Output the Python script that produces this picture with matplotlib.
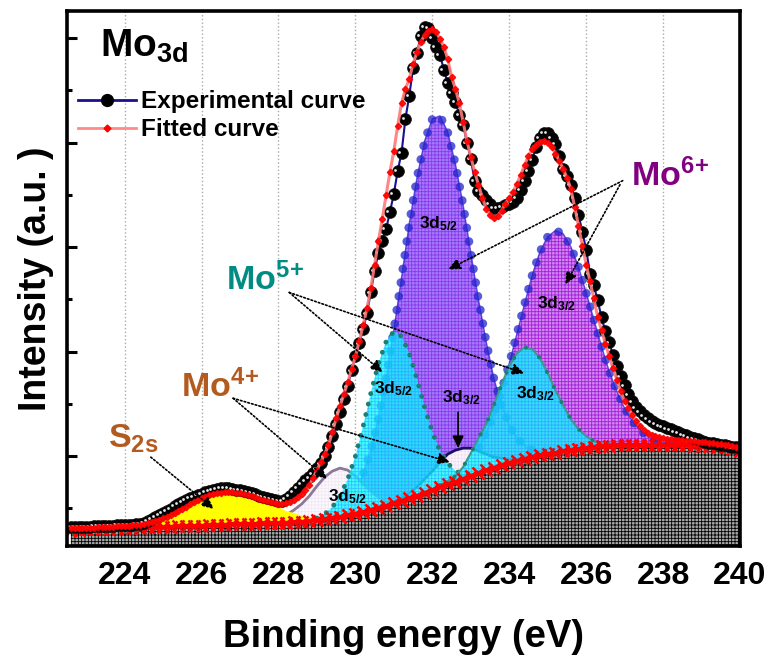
import numpy as np
import matplotlib
matplotlib.use("Agg")
import matplotlib.pyplot as plt
from matplotlib.lines import Line2D
from matplotlib.ticker import FixedLocator, NullFormatter
from matplotlib.transforms import ScaledTranslation

plt.rcParams['font.family'] = 'Liberation Sans'
plt.rcParams['font.weight'] = 'bold'
plt.rcParams['mathtext.fontset'] = 'custom'
plt.rcParams['mathtext.rm'] = 'Liberation Sans:bold'
plt.rcParams['mathtext.it'] = 'Liberation Sans:bold'
plt.rcParams['mathtext.bf'] = 'Liberation Sans:bold'
plt.rcParams['mathtext.default'] = 'rm'
plt.rcParams['hatch.linewidth'] = 0.6

# binding energy grids (eV)
energy = np.round(np.arange(222.6, 240.05, 0.1), 1)
energy_bg = energy[::2]

# experimental XPS counts (a.u.), 0.1 eV step
exp_counts = [19, 19, 19, 19, 19, 19, 20, 20, 20, 20,
              20, 20, 21, 21, 21, 21, 21, 22, 22, 23,
              25, 27, 29, 31, 33, 35, 37, 40, 42, 44,
              46, 48, 49, 51, 52, 54, 55, 56, 57, 58,
              58, 58, 57, 56, 56, 55, 54, 53, 52, 50,
              49, 48, 47, 46, 45, 45, 47, 50, 54, 58,
              62, 66, 69, 73, 78, 83, 90, 99, 110, 122,
              134, 147, 160, 176, 190, 203, 217, 233, 254, 276,
              294, 306, 318, 335, 353, 376, 394, 428, 451, 479,
              494, 511, 520, 519, 509, 500, 492, 477, 464, 454,
              445, 432, 422, 404, 388, 366, 356, 352, 347, 343,
              339, 339, 340, 342, 343, 345, 349, 357, 366, 376,
              387, 400, 409, 414, 414, 409, 403, 391, 378, 371,
              362, 349, 332, 315, 297, 273, 261, 246, 229, 215,
              204, 191, 180, 170, 161, 152, 145, 139, 135, 131,
              128, 125, 123, 121, 120, 118, 117, 115, 114, 112,
              111, 109, 108, 107, 105, 104, 103, 103, 102, 101,
              101, 100, 99, 99, 98]

# fitted envelope, 0.1 eV step
fit_counts = [18, 18, 18, 18, 18, 18, 18, 19, 19, 19,
              19, 19, 20, 20, 20, 20, 21, 21, 21, 22,
              23, 24, 25, 26, 28, 29, 31, 33, 35, 37,
              39, 42, 44, 46, 48, 49, 51, 52, 53, 53,
              54, 54, 54, 53, 53, 52, 51, 50, 49, 47,
              46, 45, 44, 43, 42, 42, 43, 44, 46, 49,
              52, 56, 61, 68, 76, 84, 92, 101, 114, 128,
              140, 152, 164, 177, 190, 205, 221, 238, 258, 282,
              306, 328, 352, 375, 396, 421, 444, 458, 468, 483,
              495, 505, 512, 516, 518, 515, 508, 500, 488, 470,
              458, 444, 425, 406, 390, 375, 362, 349, 338, 332,
              329, 331, 336, 343, 349, 355, 363, 372, 382, 391,
              398, 402, 405, 406, 404, 400, 393, 386, 378, 369,
              358, 340, 321, 301, 282, 265, 248, 229, 216, 202,
              190, 178, 166, 155, 145, 138, 131, 125, 120, 116,
              113, 111, 110, 109, 108, 107, 107, 106, 106, 106,
              105, 105, 105, 104, 104, 104, 103, 103, 102, 102,
              101, 101, 100, 99, 98]

# Shirley background, 0.2 eV step
bg_counts = [16, 16, 17, 17, 17, 17, 18, 18, 18, 18,
             19, 19, 19, 19, 20, 20, 20, 20, 21, 21,
             21, 22, 22, 22, 22, 23, 23, 23, 23, 24,
             24, 25, 26, 27, 28, 29, 31, 32, 34, 36,
             38, 40, 43, 45, 48, 50, 53, 56, 59, 62,
             64, 67, 70, 73, 76, 78, 81, 83, 85, 87,
             89, 91, 92, 93, 95, 96, 97, 98, 99, 100,
             100, 101, 101, 101, 101, 101, 101, 101, 101, 101,
             101, 100, 100, 100, 99, 99, 97, 95]

# fitted components (peak + background), 0.2 eV step
s2s_e = np.linspace(224.4, 229.0, 24)
s2s = [20, 23, 25, 28, 31, 35, 39, 44, 48, 51, 53, 54,
       55, 54, 52, 49, 47, 43, 39, 35, 33, 30, 29, 28]

mo4_52_e = np.linspace(227.8, 231.2, 18)
mo4_52 = [26, 28, 31, 36, 42, 50, 60, 69, 75, 78, 76, 70, 62, 55, 49, 44, 43, 45]

mo4_32_e = np.linspace(230.8, 234.6, 20)
mo4_32 = [40, 44, 48, 53, 59, 67, 75, 84, 92, 96, 98, 98, 95, 92, 89, 88, 87, 87, 88, 89]

mo5_52_e = np.linspace(229.0, 233.2, 22)
mo5_52 = [28, 32, 39, 50, 67, 90, 120, 153, 183, 205, 215, 210, 193, 167, 139,
          114, 95, 83, 75, 72, 72, 74]

mo5_32_e = np.linspace(232.2, 236.6, 23)
mo5_32 = [61, 65, 70, 79, 93, 108, 122, 141, 162, 180, 193, 199, 197, 188, 173,
          156, 141, 127, 117, 110, 105, 103, 102]

mo6_52_e = np.linspace(229.0, 235.2, 32)
mo6_52 = [27, 29, 32, 36, 44, 55, 72, 96, 128, 169, 217, 269, 323, 369, 406, 428,
          431, 415, 383, 342, 294, 247, 205, 168, 141, 121, 108, 100, 96, 95, 94, 94]

mo6_32_e = np.linspace(232.2, 238.2, 31)
mo6_32 = [61, 65, 69, 76, 85, 97, 113, 132, 156, 183, 213, 243, 272, 295, 310, 316,
          313, 300, 280, 254, 227, 200, 175, 155, 138, 125, 116, 110, 106, 104, 103]

fig = plt.figure(figsize=(7.76, 6.59), dpi=100)
ax = fig.add_axes([0.0863, 0.1715, 0.8673, 0.8118])

beads = dict(solid_capstyle='round', dash_capstyle='round')

# Mo6+ doublet
ax.fill_between(mo6_52_e, 0, mo6_52, facecolor='#a47cff', edgecolor='#8a3ae6',
                hatch='+++++', linewidth=0, zorder=1.0)
ax.fill_between(mo6_32_e, 0, mo6_32, facecolor='#d086f5', edgecolor='#a322d4',
                hatch='+++++', linewidth=0, zorder=1.05)
for e, c in [(mo6_52_e, mo6_52), (mo6_32_e, mo6_32)]:
    ax.plot(e, c, color='#2424cc', lw=6.2, alpha=0.75, ls=(0, (0.01, 1.6)), zorder=1.1, **beads)
    ax.plot(e, c, color='#2424cc', lw=1, alpha=0.7, zorder=1.1)

# Mo4+ doublet
ax.fill_between(mo4_52_e, 0, mo4_52, facecolor='#fdfafd', edgecolor='#f0e8f4',
                hatch='+++++', linewidth=0, zorder=1.2)
ax.fill_between(mo4_32_e, 0, mo4_32, facecolor='#fcf5fc', edgecolor='#ede2f2',
                hatch='+++++', linewidth=0, zorder=1.2)
ax.plot(mo4_52_e, mo4_52, color='#8c7898', lw=2, zorder=1.25)
ax.plot(mo4_32_e, mo4_32, color='#1a1060', lw=2, zorder=1.25)

# Mo5+ doublet
ax.fill_between(mo5_52_e, 0, mo5_52, facecolor=(0.0, 1, 1, 0.75), edgecolor=(0.2, 0.65, 1, 0.7),
                hatch='+++++', linewidth=0, zorder=1.3)
ax.fill_between(mo5_32_e, 0, mo5_32, facecolor=(0.0, 1, 1, 0.75), edgecolor=(0.2, 0.65, 1, 0.7),
                hatch='+++++', linewidth=0, zorder=1.3)
ax.plot(mo5_52_e, mo5_52, color='#1c7f75', lw=3.5, ls=(0, (0.01, 2.2)), zorder=1.35, **beads)
ax.plot(mo5_32_e, mo5_32, color='#3a9a90', lw=1.5, zorder=1.35)
ax.plot(mo5_32_e, mo5_32, color='#1c7f75', lw=3, ls=(0, (0.01, 4)), zorder=1.35, **beads)

# S2s
ax.fill_between(s2s_e, 0, s2s, facecolor='#ffff00', linewidth=0, zorder=1.4)

# background
ax.fill_between(energy_bg, 0, bg_counts, facecolor='#a8a8a8', edgecolor='black',
                hatch='+++++', linewidth=0, zorder=1.5)
ax.plot(energy_bg, bg_counts, color='red', lw=3, marker='x', ms=8, mew=1.8, zorder=1.6)

# experimental and fitted curves
ax.plot(energy, exp_counts, color='#1a0f8f', lw=1.5, marker='o', ms=8.5,
        mfc='black', mec='#111111', mew=0.5, zorder=3)
hl = ax.transData + ScaledTranslation(-0.027, 0.006, fig.dpi_scale_trans)
ax.plot(energy, exp_counts, ls='none', marker='o', ms=2.0, mfc='#e6e6e6', mec='none',
        transform=hl, zorder=3.1)
ax.plot(energy, fit_counts, color='#ff7a7a', lw=2.2, alpha=0.9, marker='D', ms=3.2,
        mfc='red', mec='red', zorder=3.5)

# axes styling
ax.set_xlim(222.5, 240)
ax.set_ylim(0, 536)
ax.set_xticks(np.arange(224, 241, 2))
ax.yaxis.set_major_locator(FixedLocator(np.arange(90, 536, 104.7)))
ax.yaxis.set_minor_locator(FixedLocator(np.arange(37.6, 536, 104.7)))
ax.yaxis.set_major_formatter(NullFormatter())
ax.tick_params(axis='y', which='major', direction='in', length=7, width=2.2)
ax.tick_params(axis='y', which='minor', direction='in', length=3.5, width=2.2)
ax.tick_params(axis='x', which='major', length=0, pad=11, labelsize=23)
for lab in ax.get_xticklabels():
    lab.set_fontweight('bold')
for sp in ax.spines.values():
    sp.set_linewidth(2.6)
    sp.set_zorder(6)
ax.set_axisbelow(True)
ax.xaxis.grid(True, ls=':', color='#aaaaaa', lw=1)
ax.set_xlabel('Binding energy (eV)', fontsize=27.5, fontweight='bold', labelpad=20)
ax.set_ylabel('Intensity (a.u. )', fontsize=27, fontweight='bold', labelpad=6)

# legend
h_exp = Line2D([], [], color='#1a0f8f', lw=2, marker='o', ms=8.5, mfc='black', mec='black')
h_fit = Line2D([], [], color='#ff8a8a', lw=2, marker='D', ms=3.5, mfc='red', mec='red')
ax.legend([h_exp, h_fit], ['Experimental curve', 'Fitted curve'], loc='upper left',
          bbox_to_anchor=(0.016, 0.852), frameon=False, numpoints=1,
          prop={'size': 17.5, 'weight': 'bold'}, handlelength=2.4, handletextpad=0.2,
          labelspacing=0.2, borderpad=0, borderaxespad=0)

# labels
ax.text(0.049, 0.915, r'Mo$_{3d}$', transform=ax.transAxes, fontsize=28, zorder=7)
ax.text(237.16, 361, r'Mo$^{6\!+}$', color='#800080', fontsize=24.5, zorder=7)
ax.text(226.64, 256, r'Mo$^{5\!+}$', color='#008b84', fontsize=24.5, zorder=7)
ax.text(225.46, 149, r'Mo$^{4\!+}$', color='#b35a1f', fontsize=24.5, zorder=7)
ax.text(223.56, 99, r'S$_{2s}$', color='#b35a1f', fontsize=24.5, zorder=7)

sub_labels = [(232.17, 323, r'3d$_{5/2}$'), (235.23, 243, r'3d$_{3/2}$'),
              (231.0, 158, r'3d$_{5/2}$'), (234.68, 153, r'3d$_{3/2}$'),
              (232.75, 149, r'3d$_{3/2}$'), (229.8, 49, r'3d$_{5/2}$')]
for x, y, s in sub_labels:
    ax.text(x, y, s, fontsize=12.5, ha='center', va='center', zorder=7)

arrow = dict(arrowstyle='-|>,head_length=0.6,head_width=0.28', lw=1.2,
             ls=(0, (1, 1.3)), color='black', shrinkA=0, shrinkB=0, mutation_scale=12)
arrows = [((236.95, 366), (232.41, 277)), ((236.88, 362), (235.46, 262)),
          ((228.28, 254), (230.71, 174)), ((228.28, 254), (234.39, 173)),
          ((226.82, 148), (229.27, 67)), ((226.82, 148), (232.46, 84)),
          ((224.68, 89), (226.32, 37))]
for start, tip in arrows:
    ax.annotate('', xy=tip, xytext=start, arrowprops=arrow, zorder=7)
ax.annotate('', xy=(232.67, 98), xytext=(232.67, 134), zorder=7,
            arrowprops=dict(arrowstyle='-|>,head_length=0.6,head_width=0.28', lw=1.2,
                            color='black', shrinkA=0, shrinkB=0, mutation_scale=12))

fig.savefig('out.png', dpi=100)
